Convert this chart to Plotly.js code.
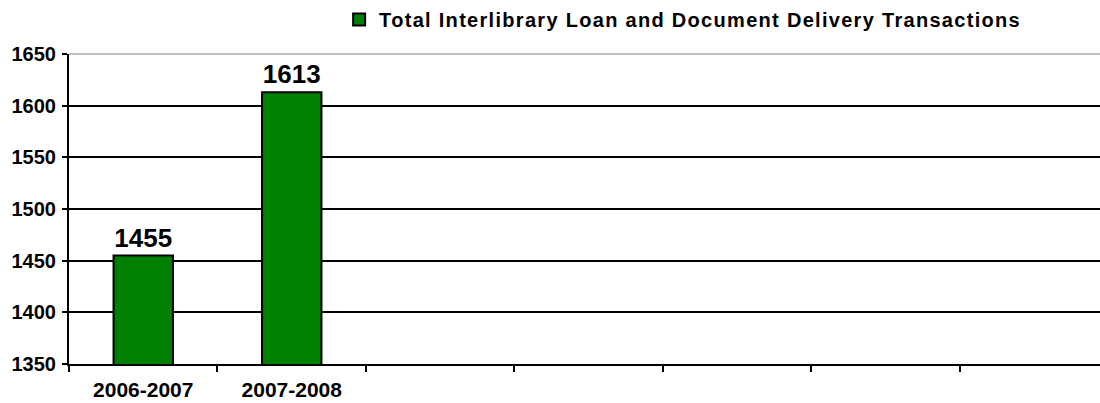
<!DOCTYPE html>
<html>
<head>
<meta charset="utf-8">
<script src="https://cdn.plot.ly/plotly-3.0.1.min.js"></script>
<style>
html,body{margin:0;padding:0;background:#fff;overflow:hidden;}
#chart{width:1100px;height:403px;}
.legendtext{letter-spacing:1.3px;}
</style>
</head>
<body>
<div id="chart"></div>
<script>
const categories = ['2006-2007', '2007-2008', ' ', '  ', '   ', '    ', '     '];
const transactions = [1455, 1613, null, null, null, null, null];
const seriesName = 'Total Interlibrary Loan and Document Delivery Transactions';
const yTicks = [1350, 1400, 1450, 1500, 1550, 1600, 1650];

const FONT = 'Liberation Sans, Arial, Helvetica, sans-serif';

const trace = {
  type: 'bar',
  x: categories,
  y: transactions,
  name: seriesName,
  width: 0.4,
  marker: {color: '#008000', line: {color: '#000000', width: 2}},
  text: transactions.map(v => v === null ? '' : String(v)),
  textposition: 'outside',
  textfont: {family: FONT, size: 26, color: '#000000', weight: 'bold'},
  constraintext: 'none',
  cliponaxis: false,
  hoverinfo: 'x+y'
};

const layout = {
  width: 1100,
  height: 403,
  margin: {l: 69, r: 0, t: 52, b: 39, pad: 0},
  paper_bgcolor: '#ffffff',
  plot_bgcolor: '#ffffff',
  showlegend: true,
  legend: {
    orientation: 'h',
    x: 0.262, xanchor: 'left',
    y: 1.05, yanchor: 'bottom',
    font: {family: FONT, size: 20, color: '#000000', weight: 'bold'},
    bgcolor: 'rgba(0,0,0,0)',
    borderwidth: 0
  },
  xaxis: {
    type: 'category',
    categoryorder: 'array',
    categoryarray: categories,
    range: [-0.5, 6.443],
    showgrid: false,
    showline: true,
    linecolor: '#000000',
    linewidth: 2,
    ticks: 'outside',
    tickson: 'boundaries',
    ticklen: 6,
    tickwidth: 2,
    tickcolor: '#000000',
    ticklabelstandoff: 6,
    tickfont: {family: FONT, size: 21, color: '#000000', weight: 'bold'},
    fixedrange: true
  },
  yaxis: {
    range: [1350, 1650],
    tickvals: yTicks,
    ticktext: yTicks.map(String),
    showgrid: true,
    gridcolor: '#000000',
    gridwidth: 2,
    zeroline: false,
    showline: true,
    linecolor: '#000000',
    linewidth: 2,
    ticks: 'outside',
    ticklen: 5,
    tickwidth: 2,
    tickcolor: '#000000',
    ticklabelstandoff: 2,
    tickfont: {family: FONT, size: 20, color: '#000000', weight: 'bold'},
    fixedrange: true
  },
  shapes: [{
    type: 'line', xref: 'paper', yref: 'paper',
    x0: 0, x1: 1, y0: 1, y1: 1,
    line: {color: '#c0c0c0', width: 2}
  }]
};

Plotly.newPlot('chart', [trace], layout, {displayModeBar: false, staticPlot: true});
</script>
</body>
</html>
